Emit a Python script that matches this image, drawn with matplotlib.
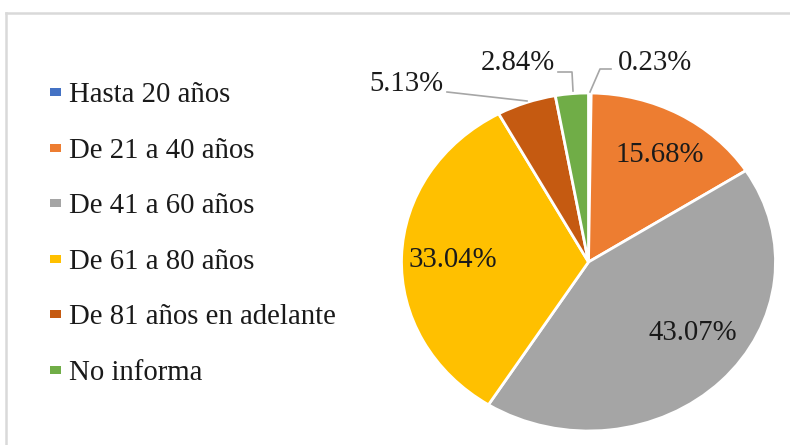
import matplotlib.pyplot as plt
from matplotlib.patches import Rectangle
from matplotlib.lines import Line2D

# age groups and their share (%)
categories = ['Hasta 20 años', 'De 21 a 40 años', 'De 41 a 60 años',
              'De 61 a 80 años', 'De 81 años en adelante', 'No informa']
shares = [0.23, 15.68, 43.07, 33.04, 5.13, 2.84]
labels = ['0.23%', '15.68%', '43.07%', '33.04%', '5.13%', '2.84%']
colors = ['#4472C4', '#ED7D31', '#A5A5A5', '#FFC000', '#C55A11', '#70AD47']

plt.rcParams['font.family'] = 'serif'
plt.rcParams['font.serif'] = ['Liberation Serif', 'DejaVu Serif']

W, H = 790, 445
fig = plt.figure(figsize=(W / 100, H / 100), dpi=100)

# light gray outer frame
fig.add_artist(Line2D([6 / W, 6 / W], [0, 1 - 13 / H], color='#D9D9D9', lw=1.8))
fig.add_artist(Line2D([6 / W, 1], [1 - 13 / H, 1 - 13 / H], color='#D9D9D9', lw=1.8))

# pie axes (picture is slightly stretched horizontally)
cx, cy, rx, ry = 588.5, 262, 187, 169
ax = fig.add_axes([(cx - rx) / W, (H - cy - ry) / H, 2 * rx / W, 2 * ry / H])
wedges, _ = ax.pie(shares, colors=colors, startangle=90, counterclock=False,
                   wedgeprops=dict(edgecolor='white', linewidth=2))
ax.set_aspect('auto')
ax.set_xlim(-1, 1)
ax.set_ylim(-1, 1)
ax.axis('off')

# px -> data coords helper
def px(x, y):
    return ((x - cx) / rx, (cy - y) / ry)

fs = 20.7
# inside labels
inside = {1: (660, 155), 2: (693, 333), 3: (453, 260)}
for i, (x, y) in inside.items():
    ax.text(*px(x, y), labels[i], ha='center', va='center', fontsize=fs, color='#1a1a1a')

# outside labels with leader lines
outside = {4: ((406, 84), [(447, 92), (527, 101)]),
           5: ((518, 63), [(558, 72), (572, 72), (573, 91)]),
           0: ((655, 63), [(611, 69), (600, 69), (590, 92)])}
for i, ((x, y), pts) in outside.items():
    ax.text(*px(x, y), labels[i], ha='center', va='center', fontsize=fs, color='#1a1a1a')
    xs, ys = zip(*[px(a, b) for a, b in pts])
    ax.plot(xs, ys, color='#A6A6A6', lw=1.2, clip_on=False)

# legend drawn by hand
y0, step = 92, 55.6
for k, (name, c) in enumerate(zip(categories, colors)):
    yy = y0 + k * step
    fig.add_artist(Rectangle((50 / W, (H - yy - 4) / H), 11 / W, 8 / H,
                             facecolor=c, edgecolor='none', transform=fig.transFigure))
    fig.text(69 / W, (H - yy) / H, name, ha='left', va='center_baseline',
             fontsize=fs, color='#1a1a1a')

fig.savefig('out.png', dpi=100)
